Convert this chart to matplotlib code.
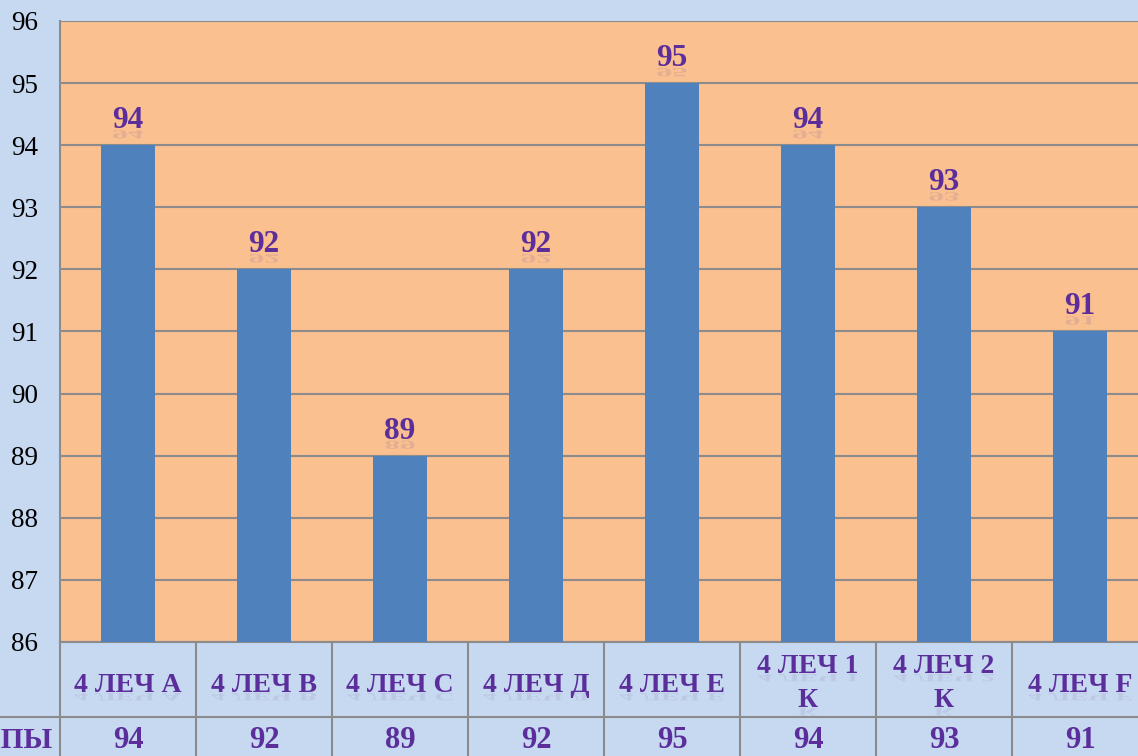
import numpy as np
import matplotlib.pyplot as plt
from matplotlib.textpath import TextPath
from matplotlib.patches import PathPatch
from matplotlib.font_manager import FontProperties
from matplotlib.transforms import Affine2D, blended_transform_factory

categories = ["4 ЛЕЧ А", "4 ЛЕЧ В", "4 ЛЕЧ С", "4 ЛЕЧ Д", "4 ЛЕЧ Е",
              "4 ЛЕЧ 1\nК", "4 ЛЕЧ 2\nК", "4 ЛЕЧ F"]
values = [94, 92, 89, 92, 95, 94, 93, 91]
row_label = "ГРУППЫ"
y_ticks = list(range(86, 97))

bg = "#C6D9F1"
plot_bg = "#FAC090"
bar_color = "#4F81BD"
purple = "#5B2E9C"
grid_color = "#8C8C8C"
font = "Liberation Serif"

W, H, dpi = 1138, 756, 100
fig = plt.figure(figsize=(W / dpi, H / dpi), dpi=dpi, facecolor=bg)

# plot area in pixels: left 60, top 21, bottom 642, category width 136
ax = fig.add_axes([60 / W, (H - 642) / H, 1088 / W, 621 / H])
ax.set_facecolor(plot_bg)

x = np.arange(len(categories))
ax.bar(x, values, width=0.4, color=bar_color, zorder=3)
ax.set_xlim(-0.5, len(categories) - 0.5)
ax.set_ylim(86, 96)
ax.set_yticks(y_ticks)
ax.set_yticklabels([str(t) for t in y_ticks], fontfamily=font, fontsize=19.5)
ax.tick_params(axis="y", length=0, pad=16)
ax.set_xticks([])
ax.yaxis.grid(True, color=grid_color, linewidth=1.5, zorder=1)
for s in ax.spines.values():
    s.set_visible(False)
ax.spines["left"].set_visible(True)
ax.spines["left"].set_color(grid_color)
ax.spines["left"].set_linewidth(1.5)

fp = FontProperties(family=font, weight="bold")


def reflect(txt, disp, size_pt, dy_px, alpha=0.2):
    # faint mirrored copy under a label (disp = baseline centre in pixels)
    size_px = size_pt * dpi / 72
    tp = TextPath((0, 0), txt, size=size_px, prop=fp)
    ext = tp.get_extents()
    tr = Affine2D().translate(-ext.width / 2 - ext.x0, 0).scale(1, -0.4).translate(disp[0], disp[1] - dy_px)
    patch = PathPatch(tp, transform=tr, facecolor="#8A6A9A", edgecolor="none", alpha=alpha, zorder=4)
    patch.set_clip_on(False)
    fig.add_artist(patch)


for xi, v in zip(x, values):
    ax.text(xi, v, str(v), ha="center", va="baseline", color=purple,
            fontfamily=font, fontsize=22.5, fontweight="bold", zorder=5,
            transform=ax.transData + Affine2D().translate(0, 17))
    bx, by = ax.transData.transform((xi, v))
    reflect(str(v), (bx, by + 15), 22.5, 0)

# data table below the axes
tr = blended_transform_factory(ax.transData, ax.transAxes)
px = 1 / 621.0
for k in range(len(categories) + 1):
    ax.plot([k - 0.5, k - 0.5], [0, -200 * px], transform=tr, color=grid_color,
            linewidth=1.5, clip_on=False)
ax.plot([-0.5, len(categories) - 0.5], [0, 0], transform=tr, color=grid_color,
        linewidth=1.5, clip_on=False)
fig.add_artist(plt.Line2D([0, 1], [(H - 717) / H] * 2, color=grid_color, linewidth=1.5))

for xi, c, v in zip(x, categories, values):
    lines = c.split("\n")
    baselines = [692] if len(lines) == 1 else [673, 707]
    cx = ax.transData.transform((xi, 0))[0]
    for ln, b in zip(lines, baselines):
        fig.text(cx / W, (H - b) / H, ln, ha="center", va="baseline", color=purple,
                 fontfamily=font, fontsize=20, fontweight="bold")
        reflect(ln, (cx, H - b - 1), 20, 0, alpha=0.15)
    fig.text(cx / W, (H - 748) / H, str(v), ha="center", va="baseline", color=purple,
             fontfamily=font, fontsize=22, fontweight="bold")

fig.text(53 / W, (H - 748) / H, row_label, ha="right", va="baseline", color=purple,
         fontfamily=font, fontsize=21, fontweight="bold")

fig.savefig("out.png", dpi=dpi, facecolor=bg)
